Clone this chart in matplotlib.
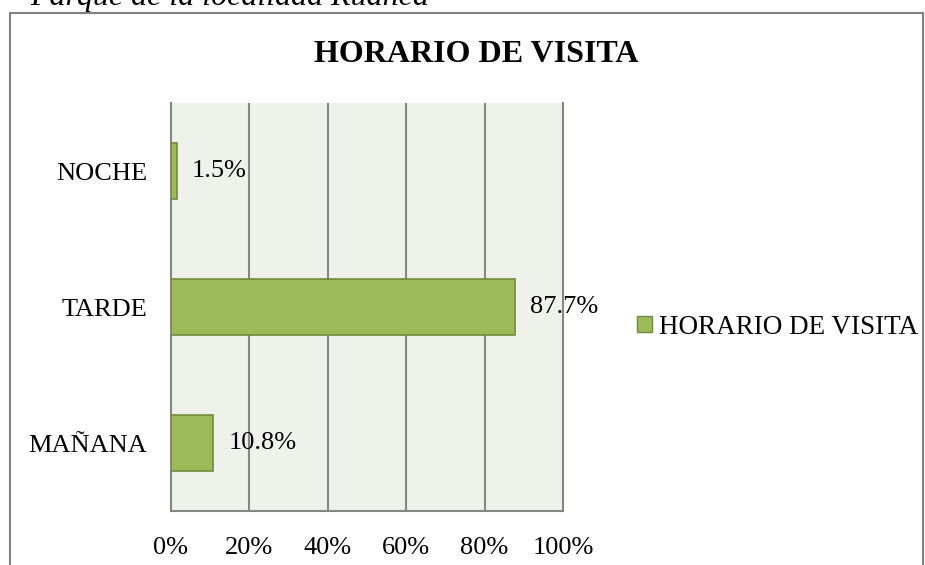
import matplotlib
matplotlib.use("Agg")
import matplotlib.pyplot as plt
from matplotlib.patches import Rectangle, Patch

categories = ["MAÑANA", "TARDE", "NOCHE"]
values = [10.8, 87.7, 1.5]
value_labels = ["10.8%", "87.7%", "1.5%"]
xticks = [0, 20, 40, 60, 80, 100]
xtick_labels = ["0%", "20%", "40%", "60%", "80%", "100%"]
title = "HORARIO DE VISITA"
series_name = "HORARIO DE VISITA"

plt.rcParams['font.family'] = ['Liberation Serif', 'DejaVu Serif']

W, H = 925, 565
fig = plt.figure(figsize=(W/100, H/100), dpi=100)

# outer frame
fig.add_artist(Rectangle((10/W, -0.01), (923-10)/W, 1 - 13/H + 0.01, transform=fig.transFigure,
                         fill=False, edgecolor="#808080", linewidth=1.5))
# clipped caption at top
fig.text(30/W, 1 - 5/H, "Parque de la localidad Ruanca", fontsize=23, style="italic",
         ha="left", va="baseline")

x0, x1 = 171, 563
y_top, y_bot = 103, 511
ax = fig.add_axes([x0/W, 1 - y_bot/H, (x1-x0)/W, (y_bot-y_top)/H])
ax.set_facecolor("#EFF2EA")
grid_c = "#868686"
ax.barh(range(len(categories)), values, height=0.41, color="#9BBB59", edgecolor="#71893F",
        linewidth=1.2, zorder=3)
ax.set_xlim(0, 100)
ax.set_ylim(-0.5, len(categories) - 0.5)
ax.set_xticks(xticks)
ax.set_xticklabels(xtick_labels, fontsize=19)
ax.set_yticks(range(len(categories)))
ax.set_yticklabels(categories, fontsize=19)
ax.tick_params(axis="x", length=0, pad=19)
ax.tick_params(axis="y", length=0, pad=17)
for x in xticks[1:-1]:
    ax.axvline(x, color=grid_c, linewidth=1.5, zorder=1)
for s in ["left", "bottom", "right"]:
    ax.spines[s].set_color(grid_c)
    ax.spines[s].set_linewidth(1.5)
ax.spines["top"].set_visible(False)

for i, (v, lab) in enumerate(zip(values, value_labels)):
    ax.annotate(lab, (v, i), xytext=(11, 0), textcoords="offset points", va="center",
                ha="left", fontsize=19, zorder=4)

fig.text(476/W, 1 - 55/H, title, fontsize=23, fontweight="bold", ha="center", va="center")

leg = fig.legend(handles=[Patch(facecolor="#9BBB59", edgecolor="#71893F", label=series_name)],
                 loc="center left", bbox_to_anchor=(613/W, 1 - 327/H), frameon=False,
                 fontsize=19.5, handlelength=0.55, handleheight=0.55, handletextpad=0.25)

fig.savefig("out.png", dpi=100)
